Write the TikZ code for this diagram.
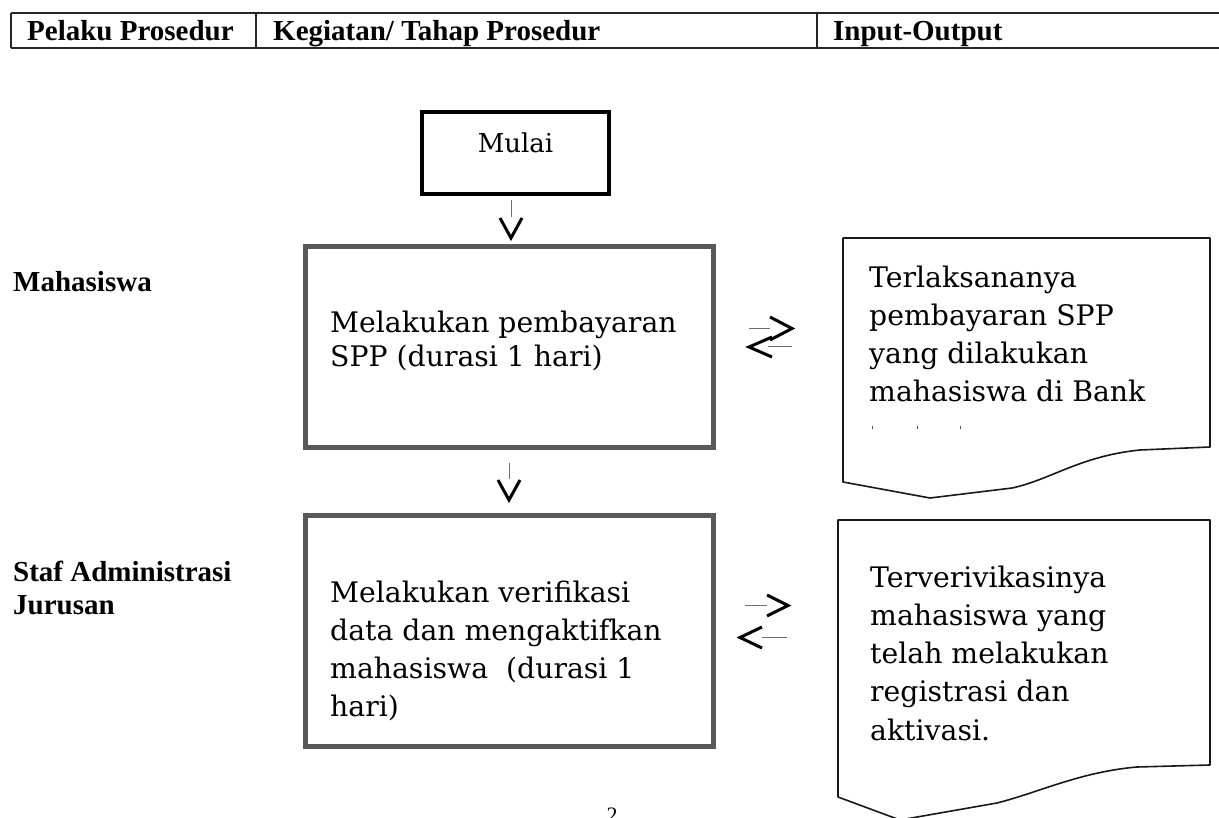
\documentclass[tikz,border=0pt]{standalone}
\usepackage{fontspec}
\setmainfont{Liberation Serif}
\newfontfamily\bodyfont{DejaVu Serif}
\newcommand\mylines[1]{\begin{tabular}[t]{@{}l@{}}#1\end{tabular}}
\definecolor{boxgray}{HTML}{595959}
\definecolor{thingray}{HTML}{707070}
\begin{document}
\begin{tikzpicture}[x=1pt,y=-1pt,
  hdrtext/.style={font=\bfseries\fontsize{29}{33}\selectfont, anchor=base west, inner sep=0},
  bodytext/.style={anchor=base west, inner sep=0},
  hdrline/.style={line width=1.6pt, draw=black!85},
  procbox/.style={draw=boxgray, line width=5pt, rectangle, inner sep=0},
  startbox/.style={draw=black, line width=4pt, rectangle, inner sep=0},
  docshape/.style={draw=black!90, line width=1.6pt, line join=round},
  stem/.style={draw=thingray, line width=1pt},
  chev/.style={draw=black, line width=3pt, line join=miter, line cap=butt}
]
\useasboundingbox (0,0) rectangle (1219,818);
\clip (0,0) rectangle (1219,818);
\fill[white] (0,0) rectangle (1219,818);

% header table
\coordinate (hTL) at (11,13);
\coordinate (hTR) at (1219,13);
\coordinate (hBL) at (11,48);
\coordinate (hBR) at (1219,48);
\draw[hdrline] (hTL) -- (hTR);
\draw[hdrline] (hBL) -- (hBR);
\draw[hdrline] (hTL) -- (hBL);
\draw[hdrline] (256,13) -- (256,48);
\draw[hdrline] (817,13) -- (817,48);
\node[hdrtext] (h1) at (27,41) {Pelaku Prosedur};
\node[hdrtext] (h2) at (273,41) {Kegiatan/ Tahap Prosedur};
\node[hdrtext] (h3) at (833,41) {Input-Output};

% actors
\node[hdrtext] (a1) at (13,292) {Mahasiswa};
\node[hdrtext] (a2) at (13,581) {\mylines{Staf Administrasi\\Jurusan}};

% start box
\node[startbox, minimum width=187pt, minimum height=82pt] (mulai) at (515.5,153) {};
\node[bodytext, anchor=base, font=\bodyfont\fontsize{26}{30}\selectfont] (mulaitxt) at (515.5,153) {Mulai};

% process boxes
\node[procbox, minimum width=408pt, minimum height=200pt] (p1) at (509,347) {};
\node[bodytext, font=\bodyfont\fontsize{28.3}{34}\selectfont] (p1t) at (330,333) {\mylines{Melakukan pembayaran\\SPP (durasi 1 hari)}};

\node[procbox, minimum width=408pt, minimum height=231pt] (p2) at (509,630.5) {};
\node[bodytext, font=\bodyfont\fontsize{28.3}{38.3}\selectfont] (p2t) at (330,602) {\mylines{Melakukan verifikasi\\data dan mengaktifkan\\mahasiswa\ \ (durasi 1\\hari)}};

% arrows down
\coordinate (s1a) at (511,200);
\coordinate (s1b) at (511,217);
\draw[stem] (s1a) -- (s1b);
\draw[chev] (500,218) -- (511,238) -- (522,218);

\coordinate (s2a) at (509,463);
\coordinate (s2b) at (509,479);
\draw[stem] (s2a) -- (s2b);
\draw[chev] (498,480) -- (509,500) -- (520,480);

% documents
\draw[docshape] (843,482) -- (843,238) -- (1210,238) -- (1210,447) -- (1140,450)
  .. controls (1080,456) and (1050,480) .. (1012,488) -- (930,498) -- cycle;
\node[bodytext, font=\bodyfont\fontsize{28.3}{38}\selectfont] (d1t) at (869,288) {\mylines{Terlaksananya\\pembayaran SPP\\yang dilakukan\\mahasiswa di Bank}};
\draw[line width=1pt, black!70] (872,426) -- (872,429);
\draw[line width=1pt, black!70] (917,426) -- (917,429);
\draw[line width=1pt, black!70] (960,426) -- (960,429);

\draw[docshape] (838,797) -- (838,520) -- (1210,520) -- (1210,765) -- (1137,767)
  .. controls (1080,772) and (1040,792) .. (997,803) -- (900,820) -- cycle;
\node[bodytext, font=\bodyfont\fontsize{28.3}{38.3}\selectfont] (d2t) at (870,587) {\mylines{Terverivikasinya\\mahasiswa yang\\telah melakukan\\registrasi dan\\aktivasi.}};

% double arrows row 1
\draw[stem] (749,329) -- (770,329);
\draw[chev] (770,317) -- (792,328.5) -- (770,340);
\draw[chev] (772,337) -- (749,347) -- (772,357);
\draw[stem] (768,347) -- (792,347);

% double arrows row 2
\draw[stem] (745,605) -- (767,605);
\draw[chev] (767,595) -- (788,605.5) -- (767,616);
\draw[chev] (762,627) -- (740,637.5) -- (762,648);
\draw[stem] (762,637) -- (787,637);

% page number
\node[bodytext, anchor=base, font=\fontsize{22}{26}\selectfont] (pg) at (612,822) {2};
\end{tikzpicture}
\end{document}
